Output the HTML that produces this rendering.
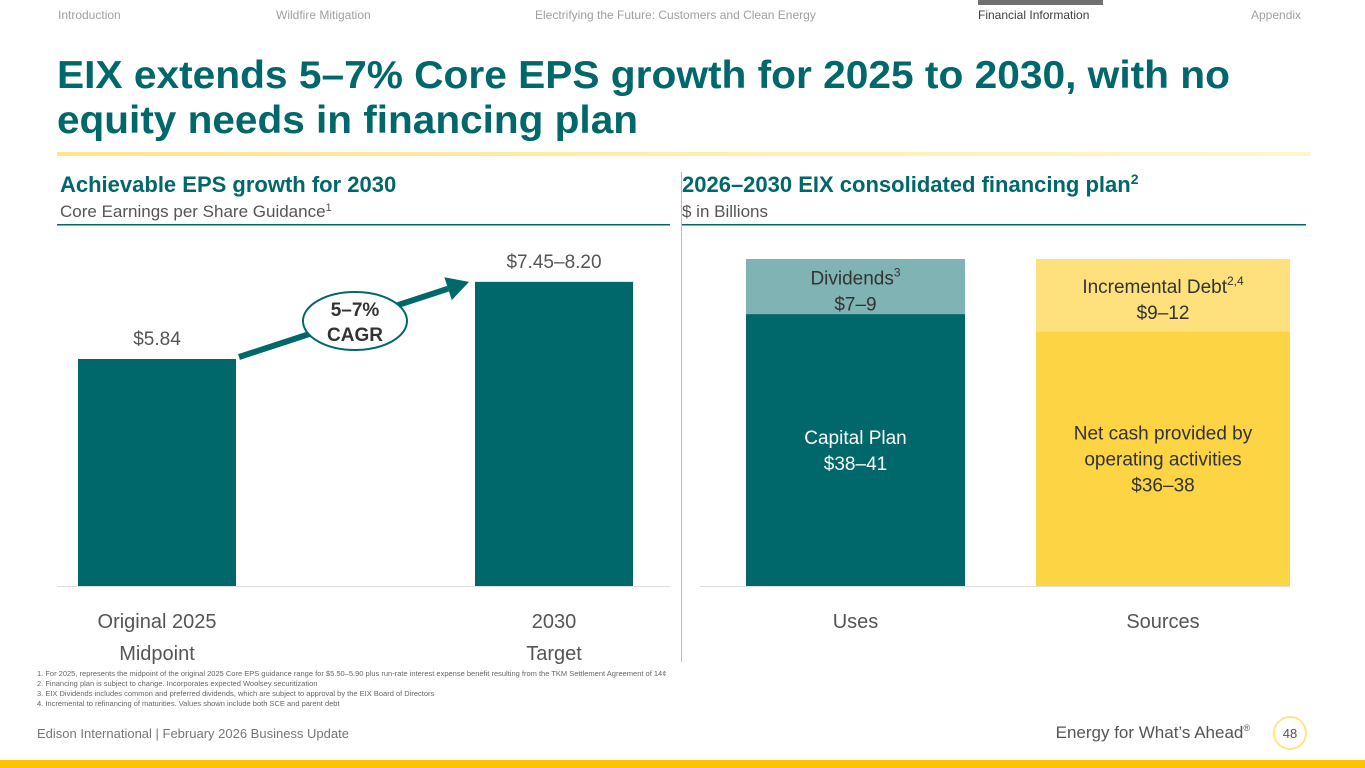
<!DOCTYPE html>
<html><head><meta charset="utf-8">
<style>
body{margin:0;width:1365px;height:768px;overflow:hidden;background:#fff;font-family:"Liberation Sans",sans-serif;}
svg{display:block}
</style></head>
<body>
<svg width="1365" height="768" viewBox="0 0 1365 768">
<defs>
<linearGradient id="gl" x1="0" x2="1"><stop offset="0" stop-color="#fde58a"/><stop offset="1" stop-color="#fff6cf"/></linearGradient>
</defs>
<g font-size="12" fill="#a0a0a0">
<text x="58" y="19">Introduction</text>
<text x="276" y="19">Wildfire Mitigation</text>
<text x="535" y="19">Electrifying the Future: Customers and Clean Energy</text>
<rect x="978" y="0" width="125" height="5" fill="#707070"/>
<text x="978" y="19" fill="#404040">Financial Information</text>
<text x="1251" y="19">Appendix</text>
</g>
<g font-size="39" font-weight="bold" fill="#00676a">
<text x="57" y="88" textLength="1173" lengthAdjust="spacingAndGlyphs">EIX extends 5–7% Core EPS growth for 2025 to 2030, with no</text>
<text x="57" y="133" textLength="581" lengthAdjust="spacingAndGlyphs">equity needs in financing plan</text>
</g>
<rect x="57" y="152" width="1253" height="4" fill="url(#gl)"/>

<text x="60" y="192" font-size="22" font-weight="bold" fill="#00676a">Achievable EPS growth for 2030</text>
<text x="60" y="217" font-size="17" fill="#555">Core Earnings per Share Guidance<tspan font-size="11" dy="-6">1</tspan></text>
<rect x="57" y="224" width="613" height="1.5" fill="#00676a"/>
<text x="682" y="192" font-size="22" font-weight="bold" fill="#00676a">2026–2030 EIX consolidated financing plan<tspan font-size="14" dy="-8">2</tspan></text>
<text x="682" y="217" font-size="17" fill="#555">$ in Billions</text>
<rect x="682" y="224" width="624" height="1.5" fill="#00676a"/>
<rect x="681" y="172" width="1" height="490" fill="#bbb"/>

<g id="left"></g>
<g id="right"></g>

<g font-size="7.5" fill="#666">
<text x="37" y="676">1.  For 2025, represents the midpoint of the original 2025 Core EPS guidance range for $5.50–5.90 plus run-rate interest expense benefit resulting from the TKM Settlement Agreement of 14¢</text>
<text x="37" y="686">2.  Financing plan is subject to change. Incorporates expected Woolsey securitization</text>
<text x="37" y="696">3.  EIX Dividends includes common and preferred dividends, which are subject to approval by the EIX Board of Directors</text>
<text x="37" y="706">4.  Incremental to refinancing of maturities. Values shown include both SCE and parent debt</text>
</g>
<text x="37" y="738" font-size="13" fill="#777">Edison International |  February 2026 Business Update</text>
<text x="1250" y="738" font-size="17" fill="#555" text-anchor="end">Energy for What’s Ahead<tspan font-size="9" dy="-7">®</tspan></text>
<circle cx="1290" cy="733" r="16" fill="#fff" stroke="#fde58a" stroke-width="2"/>
<text x="1290" y="738" font-size="13" fill="#555" text-anchor="middle">48</text>
<rect x="0" y="760" width="1365" height="8" fill="#fdc300"/>
</svg>
<script>
const epsCategories=["Original 2025|Midpoint","2030|Target"];
const epsValues=[5.84,7.825];
const epsLabels=["$5.84","$7.45–8.20"];
const finCategories=["Uses","Sources"];
const finBottomValues=[39.5,37];
const finTopValues=[8,10.5];
const finBottomLabels=["Capital Plan|$38–41","Net cash provided by|operating activities|$36–38"];
const finTopLabels=["Dividends^3|$7–9","Incremental Debt^2,4|$9–12"];

const NS="http://www.w3.org/2000/svg";
function mk(p,t,a,txt){const e=document.createElementNS(NS,t);for(const k in a)e.setAttribute(k,a[k]);if(txt!==undefined)e.textContent=txt;p.appendChild(e);return e;}
function lines(p,x,y,str,lh,attrs,name){str.split("|").forEach((s,i)=>{
  const t=mk(p,"text",Object.assign({x:x,y:y+i*lh,"text-anchor":"middle"},attrs));
  const parts=s.split("^");
  mk(t,"tspan",{},parts[0]);
  if(parts[1]) mk(t,"tspan",{"font-size":"12","dy":"-8"},parts[1]);
  
  });}

// left chart
const L=document.getElementById("left");
const base=586, lScale=v=>v*(227/5.84);
const lX=[78,475], lW=158;
mk(L,"line",{x1:57,x2:670,y1:base+0.5,y2:base+0.5,stroke:"#ddd"});
const tops=[];
epsValues.forEach((v,i)=>{
  const h=lScale(v), y=base-h; tops.push(y);
  const r=mk(L,"rect",{x:lX[i],y:y,width:lW,height:h,fill:"#00676a"});
  
  
  lines(L,lX[i]+lW/2,y-14,epsLabels[i],0,{"font-size":19,fill:"#555"},'eps-value-label');
  lines(L,lX[i]+lW/2,628,epsCategories[i],32,{"font-size":20,fill:"#555"},'eps-category-label');
});
const ax1=lX[0]+lW+3, ay1=tops[0]-2, ax2=lX[1]-6, ay2=tops[1];
const ang=Math.atan2(ay2-ay1,ax2-ax1);
const bx=ax2-22*Math.cos(ang), by=ay2-22*Math.sin(ang);
const arr=mk(L,"line",{x1:ax1,y1:ay1,x2:bx,y2:by,stroke:"#00676a","stroke-width":6});


const px=-Math.sin(ang),py=Math.cos(ang);
const head=mk(L,"polygon",{points:`${ax2},${ay2} ${bx+px*12},${by+py*12} ${bx-px*12},${by-py*12}`,fill:"#00676a"});


const ell=mk(L,"ellipse",{cx:355,cy:321,rx:52,ry:29,fill:"#fff",stroke:"#00676a","stroke-width":2});


lines(L,355,316,"5–7%|CAGR",25,{"font-size":19,"font-weight":"bold",fill:"#333"},'cagr-label');

// right chart
const R=document.getElementById("right");
const rScale=v=>v*(327/47.5);
const rX=[746,1036], rW=[219,254];
const botCol=["#00676a","#fdd444"], topCol=["#80b3b4","#fee17c"];
const botTxt=["#fff","#333"];
mk(R,"line",{x1:700,x2:1290,y1:base+0.5,y2:base+0.5,stroke:"#ddd"});
finCategories.forEach((c,i)=>{
  const hb=rScale(finBottomValues[i]), yb=base-hb;
  const ht=rScale(finTopValues[i]), yt=yb-ht;
  const b=mk(R,"rect",{x:rX[i],y:yb,width:rW[i],height:hb,fill:botCol[i]});
  
  
  const t=mk(R,"rect",{x:rX[i],y:yt,width:rW[i],height:ht,fill:topCol[i]});
  
  
  const cx=rX[i]+rW[i]/2;
  const bl=finBottomLabels[i].split("|").length;
  lines(R,cx,yb+hb/2+7-(bl-1)*13,finBottomLabels[i],26,{"font-size":19,fill:botTxt[i]},'bottom-segment-label');
  lines(R,cx,yt+ht/2-2,finTopLabels[i],26,{"font-size":19,fill:"#333"},'top-segment-label');
  lines(R,cx,628,c,0,{"font-size":20,fill:"#555"},'financing-category-label');
});
</script>
</body></html>
